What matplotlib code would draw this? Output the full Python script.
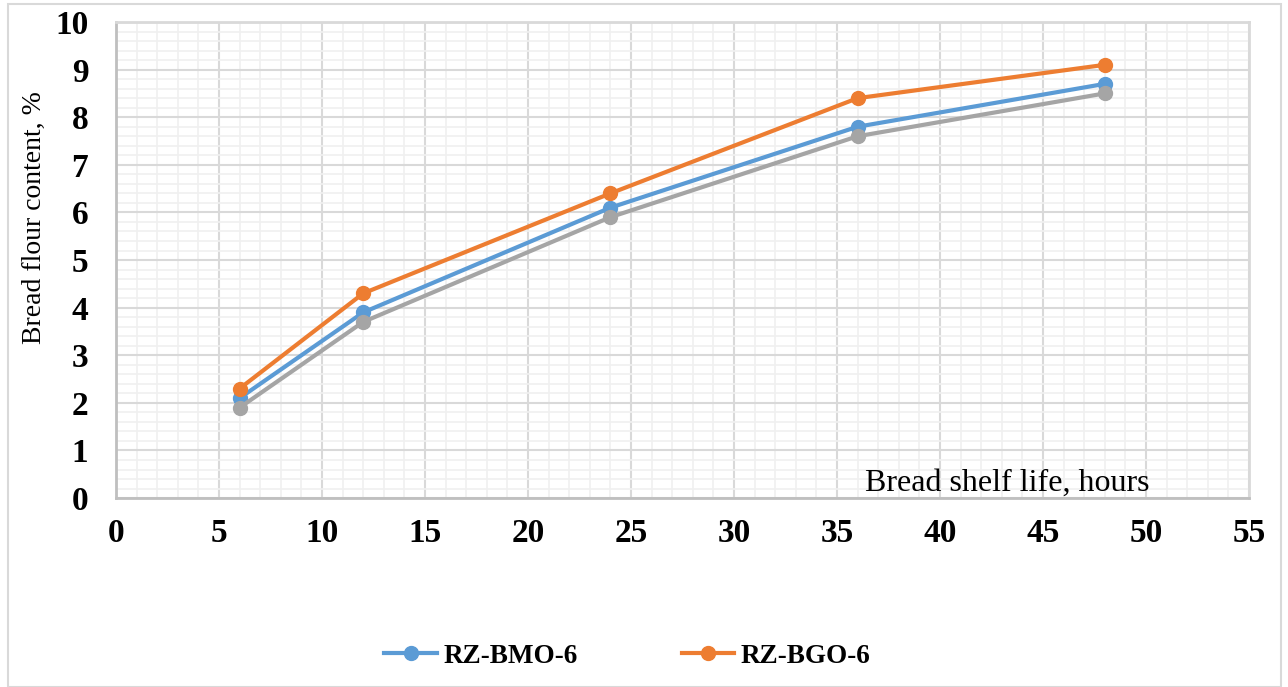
import numpy as np
import matplotlib
matplotlib.use("Agg")
from matplotlib import pyplot as plt
from matplotlib.patches import Rectangle
from matplotlib.ticker import MultipleLocator

# Data
hours = [6, 12, 24, 36, 48]
bmo = [2.1, 3.9, 6.1, 7.8, 8.7]
bgo = [2.3, 4.3, 6.4, 8.4, 9.1]
third = [1.9, 3.7, 5.9, 7.6, 8.5]  # grey series, not in the legend

series_names = ["RZ-BMO-6", "RZ-BGO-6"]
colors = ["#5b9bd5", "#ed7d31", "#a5a5a5"]

plt.rcParams['font.family'] = ['Liberation Serif', 'DejaVu Serif']

fig = plt.figure(figsize=(12.88, 6.87), dpi=100)
ax = fig.add_axes([0.0901, 0.275, 0.8796, 0.693])

# outer chart border
fig.patches.append(Rectangle((8/1288, 0), 1273/1288, 683/687, transform=fig.transFigure,
                             fill=False, edgecolor='#d9d9d9', linewidth=1.5))

ax.set_xlim(0, 55)
ax.set_ylim(0, 10)
ax.xaxis.set_major_locator(MultipleLocator(5))
ax.xaxis.set_minor_locator(MultipleLocator(1))
ax.yaxis.set_major_locator(MultipleLocator(1))
ax.yaxis.set_minor_locator(MultipleLocator(0.2))
ax.grid(which='major', color='#d9d9d9', linewidth=1.5)
ax.grid(which='minor', color='#f0f0f0', linewidth=1.2)
ax.set_axisbelow(True)
ax.tick_params(which='both', length=0)
ax.tick_params(axis='x', pad=14)
ax.tick_params(axis='y', pad=20)
for lab in ax.get_xticklabels() + ax.get_yticklabels():
    lab.set_fontweight('bold')
    lab.set_fontsize(24)

for side in ['top', 'right']:
    ax.spines[side].set_color('#d9d9d9')
for side in ['left', 'bottom']:
    ax.spines[side].set_color('#bfbfbf')
for s in ax.spines.values():
    s.set_linewidth(2)

l1, = ax.plot(hours, bmo, color=colors[0], lw=3, marker='o', ms=10, label=series_names[0])
l2, = ax.plot(hours, bgo, color=colors[1], lw=3, marker='o', ms=10, label=series_names[1])
ax.plot(hours, third, color=colors[2], lw=3, marker='o', ms=10)

ax.set_ylabel("Bread flour content, %", fontsize=20, labelpad=10)
ax.yaxis.set_label_coords(-0.061, 0.59)
ax.text(43.25, 0.32, "Bread shelf life, hours", fontsize=23, ha='center', va='center')

fig.legend(handles=[l1, l2], loc='center', bbox_to_anchor=(0.487, 0.045), ncol=2,
           frameon=False, prop={'weight': 'bold', 'size': 19.5}, handlelength=1.95,
           handletextpad=0.22, columnspacing=3.85)

fig.savefig("out.png", dpi=100)
